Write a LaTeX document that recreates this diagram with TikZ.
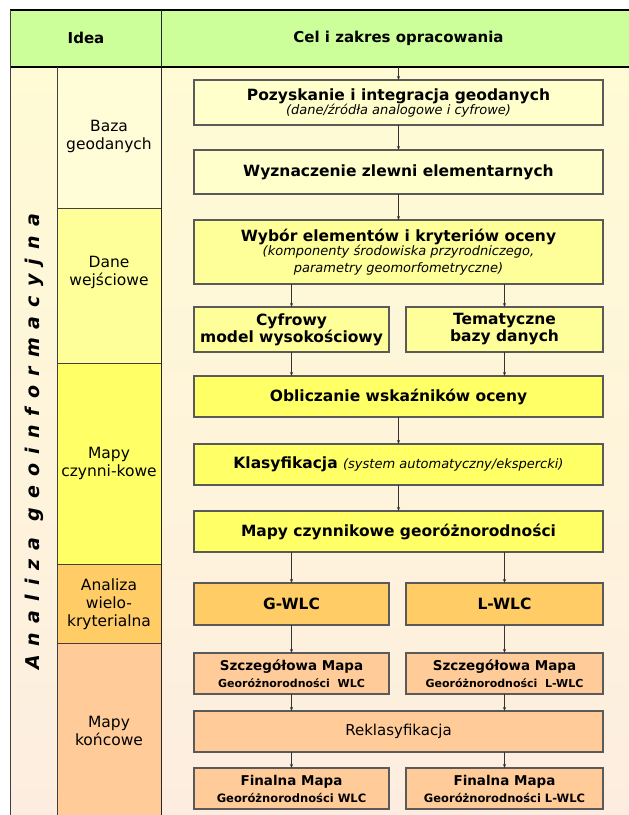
\documentclass[tikz,border=0pt]{standalone}
\usepackage{fontspec}
\setmainfont{DejaVu Sans}
\usetikzlibrary{arrows.meta}
\definecolor{naglowek}{HTML}{CCFF99}
\definecolor{krem}{HTML}{FFFFCC}
\definecolor{kremkol}{HTML}{FFFDD8}
\definecolor{zolty}{HTML}{FFFF99}
\definecolor{zoltyc}{HTML}{FFFF66}
\definecolor{pomar}{HTML}{FFCC66}
\definecolor{brzosk}{HTML}{FFCC99}
\definecolor{tlogora}{HTML}{FFFBD5}
\definecolor{tlodol}{HTML}{FDEDE0}
\definecolor{ramka}{HTML}{5A5A5A}
\tikzset{
  blok/.style={draw=ramka,line width=1.1pt,inner sep=2pt,outer sep=0pt,align=center,
    font=\bfseries\fontsize{15.5}{17}\selectfont},
  strz/.style={-{Stealth[length=4pt,width=3pt]},line width=0.6pt,black!80},
  etyk/.style={align=center,font=\fontsize{15.5}{18}\selectfont},
}
\begin{document}
\begin{tikzpicture}[x=1pt,y=-1pt]
        \useasboundingbox (0,0) rectangle (629,815);
        %tlo
        \shade[top color=tlogora,bottom color=tlodol] (10,67) rectangle (629,815);
        \fill[naglowek] (10,10) rectangle (629,67);
        \fill[kremkol] (57,67) rectangle (161,208);
        \fill[zolty] (57,208) rectangle (161,363);
        \fill[zoltyc] (57,363) rectangle (161,564);
        \fill[pomar] (57,564) rectangle (161,643);
        \fill[brzosk] (57,643) rectangle (161,815);
        
        %linie
        \draw[line width=1.2pt] (10,10) -- (629,10);
        \draw[line width=1.2pt] (10,67) -- (629,67);
        \draw[line width=0.8pt,black!75] (10,10) -- (10,815);
        \draw[line width=0.8pt,black!75] (57,67) -- (57,815);
        \draw[line width=1pt,black!85] (161,10) -- (161,815);
        \foreach \y in {208,363,564,643}
            \draw[line width=0.8pt,black!75] (57,\y) -- (161,\y);
        
        %naglowek
        \node[font=\bfseries\fontsize{15}{18}\selectfont] (idea) at (86,38) {Idea};
        \node[font=\bfseries\fontsize{15}{18}\selectfont] (cel) at (398.5,38) {Cel i zakres opracowania};
        \coordinate (start) at (398.5,67);
        
        %kolumna
        \node[rotate=90,font=\bfseries\itshape\fontsize{19}{20}\selectfont] (analiza) at (34,442)
            {\addfontfeature{LetterSpace=48}Analiza\hspace{16pt}geoinformacyjna};
        \node[etyk] (baza) at (109,136) {Baza\\geodanych};
        \node[etyk] (dane) at (109,272) {Dane\\wejściowe};
        \node[etyk] (czynn) at (109,463) {Mapy\\czynni-kowe};
        \node[etyk] (wielo) at (109,604) {Analiza\\wielo-\\kryterialna};
        \node[etyk] (konc) at (109,731) {Mapy\\końcowe};
        
        %bloki
        \node[blok,fill=krem,minimum width=409pt,minimum height=45pt] (pozysk) at (398.5,102.5)
            {Pozyskanie i integracja geodanych\\[-3pt]
             \mdseries\itshape\fontsize{13}{14}\selectfont (dane/źródła analogowe i cyfrowe)};
        \node[blok,fill=krem,minimum width=409pt,minimum height=44pt] (zlewnie) at (398.5,172)
            {Wyznaczenie zlewni elementarnych};
        \node[blok,fill=zolty,minimum width=409pt,minimum height=64pt] (wybor) at (398.5,252)
            {Wybór elementów i kryteriów oceny\\[-3pt]
             \mdseries\itshape\fontsize{13}{15}\selectfont (komponenty środowiska przyrodniczego,\\
             \mdseries\itshape\fontsize{13}{15}\selectfont parametry geomorfometryczne)};
        \node[blok,fill=zolty,minimum width=195pt,minimum height=45pt] (cyfr) at (291.5,329.5)
            {Cyfrowy\\model wysokościowy};
        \node[blok,fill=zolty,minimum width=197pt,minimum height=45pt] (temat) at (504.5,329.5)
            {Tematyczne\\bazy danych};
        \node[blok,fill=zoltyc,minimum width=409pt,minimum height=41pt] (oblicz) at (398.5,396.5)
            {Obliczanie wskaźników oceny};
        \node[blok,fill=zoltyc,minimum width=409pt,minimum height=41pt] (klasyf) at (398.5,464.5)
            {Klasyfikacja {\mdseries\itshape\fontsize{13}{15}\selectfont (system automatyczny/ekspercki)}};
        \node[blok,fill=zoltyc,minimum width=409pt,minimum height=41pt] (mapycz) at (398.5,531.5)
            {Mapy czynnikowe georóżnorodności};
        \node[blok,fill=pomar,minimum width=195pt,minimum height=42pt] (gwlc) at (291.5,604) {G-WLC};
        \node[blok,fill=pomar,minimum width=197pt,minimum height=42pt] (lwlc) at (504.5,604) {L-WLC};
        \node[blok,fill=brzosk,minimum width=195pt,minimum height=41pt] (szczg) at (291.5,673.5)
            {\fontsize{13.5}{13}\selectfont Szczegółowa Mapa\\\fontsize{11}{12}\selectfont Georóżnorodności~~WLC};
        \node[blok,fill=brzosk,minimum width=197pt,minimum height=41pt] (szczl) at (504.5,673.5)
            {\fontsize{13.5}{13}\selectfont Szczegółowa Mapa\\\fontsize{11}{12}\selectfont Georóżnorodności~~L-WLC};
        \node[blok,fill=brzosk,minimum width=409pt,minimum height=41pt,font=\fontsize{15}{18}\selectfont] (reklas) at (398.5,731.5)
            {Reklasyfikacja};
        \node[blok,fill=brzosk,minimum width=195pt,minimum height=41pt] (fing) at (291.5,788.5)
            {\fontsize{13.5}{13}\selectfont Finalna Mapa\\\fontsize{11.5}{12}\selectfont Georóżnorodności WLC};
        \node[blok,fill=brzosk,minimum width=197pt,minimum height=41pt] (finl) at (504.5,788.5)
            {\fontsize{13.5}{13}\selectfont Finalna Mapa\\\fontsize{11.5}{12}\selectfont Georóżnorodności L-WLC};
        
        %strzalki
        \draw[strz] (start) -- (pozysk);
        \draw[strz] (pozysk) -- (zlewnie);
        \draw[strz] (zlewnie) -- (wybor);
        \draw[strz] (wybor.south -| cyfr) -- (cyfr);
        \draw[strz] (wybor.south -| temat) -- (temat);
        \draw[strz] (cyfr) -- (cyfr |- oblicz.north);
        \draw[strz] (temat) -- (temat |- oblicz.north);
        \draw[strz] (oblicz) -- (klasyf);
        \draw[strz] (klasyf) -- (mapycz);
        \draw[strz] (mapycz.south -| gwlc) -- (gwlc);
        \draw[strz] (mapycz.south -| lwlc) -- (lwlc);
        \draw[strz] (gwlc) -- (szczg);
        \draw[strz] (lwlc) -- (szczl);
        \draw[strz] (szczg) -- (szczg |- reklas.north);
        \draw[strz] (szczl) -- (szczl |- reklas.north);
        \draw[strz] (reklas.south -| fing) -- (fing);
        \draw[strz] (reklas.south -| finl) -- (finl);
    \end{tikzpicture}
\end{document}
